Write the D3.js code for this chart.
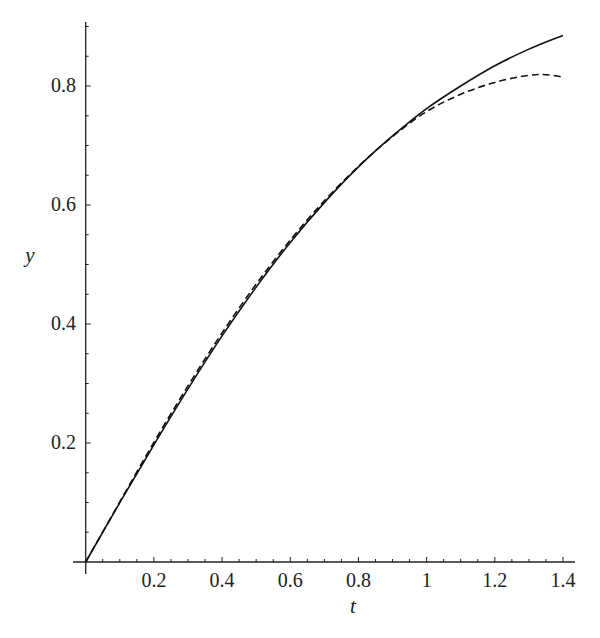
<!DOCTYPE html>
<html><head><meta charset="utf-8">
<script src="https://cdn.jsdelivr.net/npm/d3@7"></script>
<style>body{margin:0;background:#fff}svg{display:block}text{font-family:"Liberation Serif",serif;fill:#222}</style>
</head><body><svg id="c" width="600" height="638"></svg>
<script>
const tValues = [0,0.1,0.2,0.3,0.4,0.5,0.6,0.7,0.8,0.9,1.0,1.1,1.2,1.3,1.35,1.4];
const solidY  = [0,0.0997,0.197,0.291,0.380,0.462,0.537,0.604,0.664,0.716,0.762,0.800,0.834,0.862,0.874,0.885];
const dashedY = [0,0.101,0.201,0.296,0.385,0.467,0.541,0.607,0.665,0.715,0.757,0.786,0.806,0.818,0.819,0.815];
const xTicks = [0.2,0.4,0.6,0.8,1,1.2,1.4];
const yTicks = [0.2,0.4,0.6,0.8];

const svg = d3.select("#c");
const x = d3.scaleLinear().domain([0,1.4]).range([85.7,563]);
const y = d3.scaleLinear().domain([0,0.8]).range([562,86]);

svg.append("line").attr("x1",73).attr("x2",575).attr("y1",y(0)).attr("y2",y(0)).attr("stroke","#222").attr("stroke-width",1.3);
svg.append("line").attr("x1",x(0)).attr("x2",x(0)).attr("y1",574).attr("y2",22).attr("stroke","#222").attr("stroke-width",1.3);

const minor = d3.range(0.05,1.44,0.05);
svg.selectAll(".xt").data(minor).enter().append("line")
  .attr("x1",d=>x(d)).attr("x2",d=>x(d))
  .attr("y1",y(0)).attr("y2",d=>y(0)-(Math.abs(d*5-Math.round(d*5))<1e-6?5:3))
  .attr("stroke","#222").attr("stroke-width",1);
const yminor = d3.range(0.05,0.91,0.05);
svg.selectAll(".yt").data(yminor).enter().append("line")
  .attr("y1",d=>y(d)).attr("y2",d=>y(d))
  .attr("x1",x(0)).attr("x2",d=>x(0)+(Math.abs(d*5-Math.round(d*5))<1e-6?5:3))
  .attr("stroke","#222").attr("stroke-width",1);

svg.selectAll(".xl").data(xTicks).enter().append("text")
  .attr("x",d=>x(d)).attr("y",y(0)+25).attr("text-anchor","middle")
  .attr("font-size",20).text(d=>String(d));
svg.selectAll(".yl").data(yTicks).enter().append("text")
  .attr("x",76).attr("y",d=>y(d)+6).attr("text-anchor","end")
  .attr("font-size",20).text(d=>String(d));

svg.append("text").attr("x",30).attr("y",262).attr("font-size",21).attr("font-style","italic").attr("text-anchor","middle").text("y");
svg.append("text").attr("x",353).attr("y",613).attr("font-size",21).attr("font-style","italic").attr("text-anchor","middle").text("t");

const line = d3.line().curve(d3.curveCatmullRom).x(d=>x(d[0])).y(d=>y(d[1]));
svg.append("path").datum(tValues.map((t,i)=>[t,solidY[i]])).attr("d",line)
  .attr("fill","none").attr("stroke","#111").attr("stroke-width",1.6);
svg.append("path").datum(tValues.map((t,i)=>[t,dashedY[i]])).attr("d",line)
  .attr("fill","none").attr("stroke","#111").attr("stroke-width",1.6).attr("stroke-dasharray","7,4");
</script></body></html>
